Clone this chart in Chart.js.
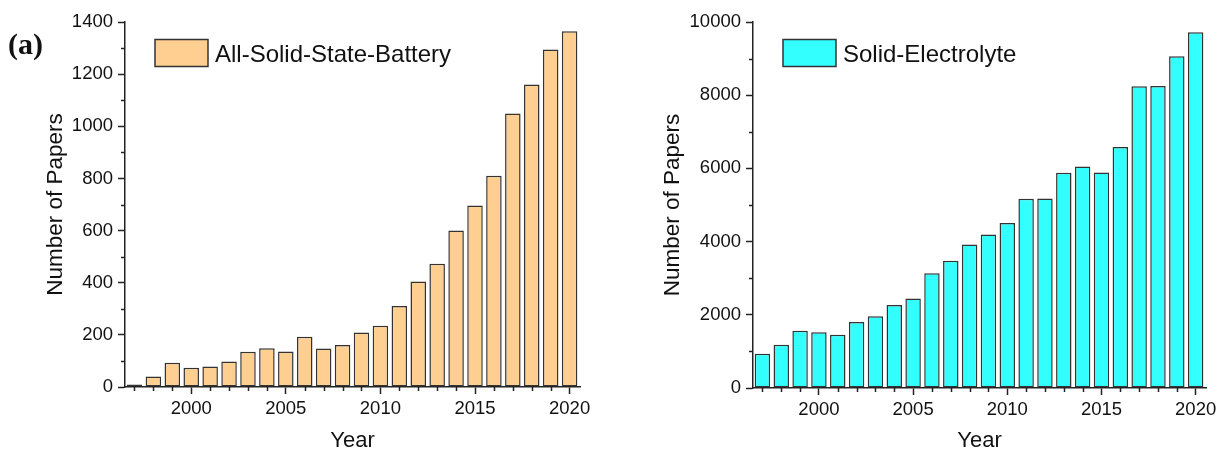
<!DOCTYPE html>
<html><head><meta charset="utf-8">
<script src="https://cdn.jsdelivr.net/npm/chart.js@4.4.1/dist/chart.umd.min.js"></script>
<style>
html,body{margin:0;padding:0;background:#fff;}
#wrap{position:relative;width:1220px;height:452px;overflow:hidden;}
canvas{position:absolute;top:0;}
</style></head><body>
<div id="wrap">
<canvas id="c1" width="610" height="452" style="left:0;width:610px;height:452px"></canvas>
<canvas id="c2" width="610" height="452" style="left:610px;width:610px;height:452px"></canvas>
</div>
<script>
const years = [1997,1998,1999,2000,2001,2002,2003,2004,2005,2006,2007,2008,2009,2010,2011,2012,2013,2014,2015,2016,2017,2018,2019,2020];
const assbPapers = [10,40,93,74,79,98,135,149,136,193,148,161,209,235,311,405,473,600,696,810,1049,1160,1295,1365];
const sePapers = [938,1184,1567,1520,1457,1800,1963,2265,2447,3132,3479,3918,4192,4511,5169,5175,5881,6055,5890,6584,8246,8250,9065,9722];
const xTickLabels = [2000,2005,2010,2015,2020];
const yTicksA = [0,200,400,600,800,1000,1200,1400];
const yTicksB = [0,2000,4000,6000,8000,10000];
const labelA = 'All-Solid-State-Battery';
const labelB = 'Solid-Electrolyte';
const panelLabel = '(a)';
const xTitle = 'Year';
const yTitle = 'Number of Papers';

const SANS = '"Liberation Sans", Arial, Helvetica, sans-serif';
const INK = '#111';
const AXIS = '#222';

const deco = {
  id: 'deco',
  afterDraw(chart, args, opts) {
    const ctx = chart.ctx, xs = chart.scales.x, ys = chart.scales.y;
    ctx.save();
    ctx.strokeStyle = AXIS; ctx.lineWidth = 1.5;
    ctx.beginPath();
    years.forEach(v => {
      if (!xTickLabels.includes(v)) {
        const p = Math.round(xs.getPixelForValue(v)) + 0.5;
        ctx.moveTo(p, ys.bottom); ctx.lineTo(p, ys.bottom + 4);
      }
    });
    const ym = opts.yMajor;
    for (let i = 0; i < ym.length - 1; i++) {
      const p = Math.round(ys.getPixelForValue((ym[i] + ym[i + 1]) / 2)) + 0.5;
      ctx.moveTo(xs.left, p); ctx.lineTo(xs.left - 4, p);
    }
    ctx.stroke();
    // legend
    const ds = chart.data.datasets[0];
    const bx = chart.chartArea.left + 30, by = chart.chartArea.top + 17.5, bw = 53, bh = 27;
    ctx.fillStyle = ds.backgroundColor;
    ctx.fillRect(bx, by, bw, bh);
    ctx.strokeStyle = '#333'; ctx.lineWidth = 1.5;
    ctx.strokeRect(bx, by, bw, bh);
    ctx.font = '24px ' + SANS;
    ctx.fillStyle = INK; ctx.textBaseline = 'alphabetic'; ctx.textAlign = 'left';
    ctx.fillText(ds.label, bx + bw + 7, by + 22);
    if (opts.panel) {
      ctx.font = 'bold 30px "Liberation Serif", "Times New Roman", serif';
      ctx.fillText(opts.panel, 8, 54);
    }
    ctx.restore();
  }
};

function makeChart(id, label, values, color, yTicks, yWidth, padRight, xHeight, titlePad, panel) {
  return new Chart(document.getElementById(id), {
    type: 'bar',
    data: {
      datasets: [{
        label: label,
        data: years.map((y, i) => ({x: y, y: values[i]})),
        backgroundColor: color,
        borderColor: '#333',
        borderWidth: 1.5,
        borderSkipped: false,
        barPercentage: 0.82,
        categoryPercentage: 1.0
      }]
    },
    options: {
      responsive: false,
      animation: false,
      devicePixelRatio: 1,
      layout: {padding: {top: 22, right: padRight, left: 0, bottom: 0}},
      plugins: {legend: {display: false}, tooltip: {enabled: false}, deco: {yMajor: yTicks, panel: panel}},
      scales: {
        x: {
          type: 'linear', offset: false, min: 1996.5, max: 2020.55,
          afterBuildTicks: s => { s.ticks = xTickLabels.map(v => ({value: v})); },
          afterFit: s => { s.height = xHeight; },
          grid: {display: true, drawOnChartArea: false, offset: false, tickLength: 7, tickWidth: 1.5, tickColor: AXIS},
          border: {display: true, color: AXIS, width: 1.5},
          ticks: {autoSkip: false, maxRotation: 0, padding: 3.5, color: INK, font: {family: SANS, size: 18.5}, callback: v => String(v)},
          title: {display: true, text: xTitle, color: INK, font: {family: SANS, size: 22, lineHeight: 1.0}, padding: {top: 0, bottom: 0}}
        },
        y: {
          min: 0, max: yTicks[yTicks.length - 1],
          afterBuildTicks: s => { s.ticks = yTicks.map(v => ({value: v})); },
          afterFit: s => { s.width = yWidth; },
          grid: {display: true, drawOnChartArea: false, tickLength: 7, tickWidth: 1.5, tickColor: AXIS},
          border: {display: true, color: AXIS, width: 1.5},
          ticks: {padding: 5, color: INK, font: {family: SANS, size: 18.5}, callback: v => String(v)},
          title: {display: true, text: yTitle, color: INK, font: {family: SANS, size: 22.5, lineHeight: 1.0}, padding: {top: titlePad, bottom: 0}}
        }
      }
    },
    plugins: [deco]
  });
}

makeChart('c1', labelA, assbPapers, '#FFCF91', yTicksA, 125, 30, 65, 44.3, panelLabel);
makeChart('c2', labelB, sePapers, '#33FFFF', yTicksB, 143, 12, 64, 52, null);
</script>
</body></html>
